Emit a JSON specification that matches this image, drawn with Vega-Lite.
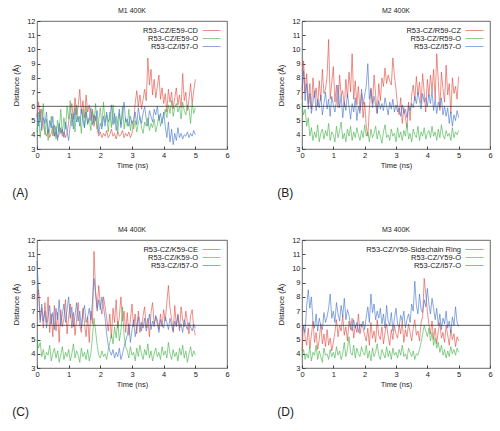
{
"$schema": "https://vega.github.io/schema/vega-lite/v6.json",
"padding": {"left": 12, "top": 6, "right": 4, "bottom": 4},
"background": "white",
"config": {
  "font": "Liberation Sans",
  "view": {"stroke": "#444", "strokeWidth": 0.8},
  "axis": {"grid": false, "domain": false, "labelFontSize": 7.5, "titleFontSize": 7.5, "titleFontWeight": "normal", "labelColor": "#222", "titleColor": "#222", "tickColor": "#444", "tickSize": -3, "labelPadding": 5, "labelOverlap": false, "labelBound": false, "labelFlush": false},
  "axisQuantitative": {"labelOverlap": false},
  "axisX": {"titlePadding": 3},
  "axisY": {"titlePadding": 6, "labelOverlap": false},
  "title": {"fontSize": 7, "fontWeight": "normal", "color": "#222", "offset": 3},
  "legend": {"orient": "top-right", "offset": 5, "title": null, "symbolType": "M-2.25,0L2.25,0", "symbolSize": 64, "symbolStrokeWidth": 1.2, "symbolFillColor": "transparent", "labelFontSize": 7.5, "labelColor": "#222", "labelAlign": "right", "labelOffset": -18, "rowPadding": 0, "padding": 0},
  "line": {"strokeWidth": 0.6}
},
"spacing": 25,
"resolve": {"scale": {"color": "independent"}, "legend": {"color": "independent"}},
"vconcat": [
 {"spacing": 47, "resolve": {"scale": {"color": "independent"}, "legend": {"color": "independent"}}, "hconcat": [
  {"title": {"text": "(A)", "orient": "bottom", "fontSize": 12, "offset": 19}, "resolve": {"scale": {"color": "independent"}, "legend": {"color": "independent"}},
   "vconcat": [{"title": "M1 400K", "width": 190, "height": 128, "data": {"name": "A"},
    "layer": [
     {"transform": [{"fold": ["r", "g", "b"], "as": ["k", "v"]}], "mark": "line", "encoding": {"x": {"field": "t", "type": "quantitative", "scale": {"domain": [0, 6], "nice": false}, "axis": {"values": [0,1,2,3,4,5,6], "labelOverlap": false, "title": "Time (ns)"}}, "y": {"field": "v", "type": "quantitative", "scale": {"domain": [3, 12], "nice": false}, "axis": {"values": [3,4,5,6,7,8,9,10,11,12], "labelOverlap": false, "title": "Distance (Å)"}}, "color": {"field": "k", "type": "nominal", "scale": {"domain": ["r", "g", "b"], "range": ["#e0443a", "#3cb043", "#3d6ec9"]}, "legend": {"labelExpr": "datum.label == 'r' ? 'R53-CZ/E59-CD' : datum.label == 'g' ? 'R53-CZ/E59-O' : 'R53-CZ/I57-O'"}}}},
     {"data": {"values": [{}]}, "mark": {"type": "rule", "color": "#333", "strokeWidth": 0.8}, "encoding": {"y": {"datum": 6, "type": "quantitative", "axis": {"values": [3,4,5,6,7,8,9,10,11,12], "labelOverlap": false, "title": "Distance (Å)"}}}}
    ]}]},
  {"title": {"text": "(B)", "orient": "bottom", "fontSize": 12, "offset": 19}, "resolve": {"scale": {"color": "independent"}, "legend": {"color": "independent"}},
   "vconcat": [{"title": "M2 400K", "width": 188, "height": 128, "data": {"name": "B"},
    "layer": [
     {"transform": [{"fold": ["r", "g", "b"], "as": ["k", "v"]}], "mark": "line", "encoding": {"x": {"field": "t", "type": "quantitative", "scale": {"domain": [0, 6], "nice": false}, "axis": {"values": [0,1,2,3,4,5,6], "labelOverlap": false, "title": "Time (ns)"}}, "y": {"field": "v", "type": "quantitative", "scale": {"domain": [3, 12], "nice": false}, "axis": {"values": [3,4,5,6,7,8,9,10,11,12], "labelOverlap": false, "title": "Distance (Å)"}}, "color": {"field": "k", "type": "nominal", "scale": {"domain": ["r", "g", "b"], "range": ["#e0443a", "#3cb043", "#3d6ec9"]}, "legend": {"labelExpr": "datum.label == 'r' ? 'R53-CZ/R59-CZ' : datum.label == 'g' ? 'R53-CZ/R59-O' : 'R53-CZ/I57-O'"}}}},
     {"data": {"values": [{}]}, "mark": {"type": "rule", "color": "#333", "strokeWidth": 0.8}, "encoding": {"y": {"datum": 6, "type": "quantitative", "axis": {"values": [3,4,5,6,7,8,9,10,11,12], "labelOverlap": false, "title": "Distance (Å)"}}}}
    ]}]}
 ]},
 {"spacing": 47, "resolve": {"scale": {"color": "independent"}, "legend": {"color": "independent"}}, "hconcat": [
  {"title": {"text": "(C)", "orient": "bottom", "fontSize": 12, "offset": 19}, "resolve": {"scale": {"color": "independent"}, "legend": {"color": "independent"}},
   "vconcat": [{"title": "M4 400K", "width": 190, "height": 128, "data": {"name": "C"},
    "layer": [
     {"transform": [{"fold": ["r", "g", "b"], "as": ["k", "v"]}], "mark": "line", "encoding": {"x": {"field": "t", "type": "quantitative", "scale": {"domain": [0, 6], "nice": false}, "axis": {"values": [0,1,2,3,4,5,6], "labelOverlap": false, "title": "Time (ns)"}}, "y": {"field": "v", "type": "quantitative", "scale": {"domain": [3, 12], "nice": false}, "axis": {"values": [3,4,5,6,7,8,9,10,11,12], "labelOverlap": false, "title": "Distance (Å)"}}, "color": {"field": "k", "type": "nominal", "scale": {"domain": ["r", "g", "b"], "range": ["#e0443a", "#3cb043", "#3d6ec9"]}, "legend": {"labelExpr": "datum.label == 'r' ? 'R53-CZ/K59-CE' : datum.label == 'g' ? 'R53-CZ/K59-O' : 'R53-CZ/I57-O'"}}}},
     {"data": {"values": [{}]}, "mark": {"type": "rule", "color": "#333", "strokeWidth": 0.8}, "encoding": {"y": {"datum": 6, "type": "quantitative", "axis": {"values": [3,4,5,6,7,8,9,10,11,12], "labelOverlap": false, "title": "Distance (Å)"}}}}
    ]}]},
  {"title": {"text": "(D)", "orient": "bottom", "fontSize": 12, "offset": 19}, "resolve": {"scale": {"color": "independent"}, "legend": {"color": "independent"}},
   "vconcat": [{"title": "M3 400K", "width": 188, "height": 128, "data": {"name": "D"},
    "layer": [
     {"transform": [{"fold": ["r", "g", "b"], "as": ["k", "v"]}], "mark": "line", "encoding": {"x": {"field": "t", "type": "quantitative", "scale": {"domain": [0, 6], "nice": false}, "axis": {"values": [0,1,2,3,4,5,6], "labelOverlap": false, "title": "Time (ns)"}}, "y": {"field": "v", "type": "quantitative", "scale": {"domain": [3, 12], "nice": false}, "axis": {"values": [3,4,5,6,7,8,9,10,11,12], "labelOverlap": false, "title": "Distance (Å)"}}, "color": {"field": "k", "type": "nominal", "scale": {"domain": ["r", "g", "b"], "range": ["#e0443a", "#3cb043", "#3d6ec9"]}, "legend": {"labelExpr": "datum.label == 'r' ? 'R53-CZ/Y59-Sidechain Ring' : datum.label == 'g' ? 'R53-CZ/Y59-O' : 'R53-CZ/I57-O'"}}}},
     {"data": {"values": [{}]}, "mark": {"type": "rule", "color": "#333", "strokeWidth": 0.8}, "encoding": {"y": {"datum": 6, "type": "quantitative", "axis": {"values": [3,4,5,6,7,8,9,10,11,12], "labelOverlap": false, "title": "Distance (Å)"}}}}
    ]}]}
 ]}
],
"datasets": {
"A": [
{"t":0,"r":5.2,"g":4.2,"b":5.5},{"t":0.05,"r":6.3,"g":5.6,"b":4.6},{"t":0.1,"r":5.0,"g":3.8,"b":5.8},{"t":0.15,"r":5.8,"g":4.9,"b":4.3},{"t":0.2,"r":4.6,"g":6.2,"b":5.2},
{"t":0.25,"r":4.2,"g":4.0,"b":4.8},{"t":0.3,"r":3.9,"g":5.1,"b":5.6},{"t":0.35,"r":4.4,"g":3.6,"b":4.1},{"t":0.4,"r":3.8,"g":4.4,"b":5.0},{"t":0.45,"r":4.1,"g":5.3,"b":4.5},
{"t":0.5,"r":4.6,"g":3.9,"b":5.3},{"t":0.55,"r":3.9,"g":4.7,"b":3.9},{"t":0.6,"r":4.2,"g":3.7,"b":4.6},{"t":0.65,"r":3.8,"g":5.0,"b":3.6},{"t":0.7,"r":4.0,"g":4.2,"b":4.8},
{"t":0.75,"r":4.5,"g":5.8,"b":4.1},{"t":0.8,"r":3.9,"g":4.1,"b":4.4},{"t":0.85,"r":4.2,"g":5.2,"b":3.8},{"t":0.9,"r":3.8,"g":4.4,"b":4.9},{"t":0.95,"r":4.1,"g":6.0,"b":4.2},
{"t":1,"r":4.9,"g":5.1,"b":3.6},{"t":1.05,"r":5.6,"g":6.4,"b":4.7},{"t":1.1,"r":6.2,"g":4.6,"b":5.5},{"t":1.15,"r":5.1,"g":5.5,"b":4.4},{"t":1.2,"r":6.6,"g":4.2,"b":5.9},
{"t":1.25,"r":5.4,"g":6.1,"b":4.9},{"t":1.3,"r":6.0,"g":4.9,"b":5.3},{"t":1.35,"r":7.2,"g":5.3,"b":4.6},{"t":1.4,"r":5.5,"g":4.1,"b":5.8},{"t":1.45,"r":6.4,"g":5.8,"b":5.0},
{"t":1.5,"r":5.2,"g":4.5,"b":4.5},{"t":1.55,"r":6.8,"g":6.0,"b":5.6},{"t":1.6,"r":5.6,"g":4.7,"b":4.8},{"t":1.65,"r":6.1,"g":5.2,"b":5.2},{"t":1.7,"r":5.0,"g":4.3,"b":5.9},
{"t":1.75,"r":5.8,"g":5.7,"b":4.7},{"t":1.8,"r":4.6,"g":4.8,"b":5.4},{"t":1.85,"r":5.3,"g":6.2,"b":5.0},{"t":1.9,"r":4.4,"g":4.4,"b":5.7},{"t":1.95,"r":3.9,"g":5.0,"b":4.1},
{"t":2,"r":4.2,"g":5.9,"b":4.8},{"t":2.05,"r":3.8,"g":4.6,"b":4.4},{"t":2.1,"r":4.1,"g":6.3,"b":5.3},{"t":2.15,"r":3.9,"g":4.9,"b":4.6},{"t":2.2,"r":4.3,"g":5.4,"b":5.6},
{"t":2.25,"r":3.8,"g":4.2,"b":4.9},{"t":2.3,"r":4.0,"g":5.6,"b":5.2},{"t":2.35,"r":4.4,"g":4.5,"b":6.1},{"t":2.4,"r":3.9,"g":6.1,"b":4.7},{"t":2.45,"r":4.1,"g":4.8,"b":5.5},
{"t":2.5,"r":3.7,"g":5.3,"b":4.3},{"t":2.55,"r":4.2,"g":4.1,"b":5.0},{"t":2.6,"r":3.9,"g":5.5,"b":5.8},{"t":2.65,"r":4.0,"g":4.7,"b":4.5},{"t":2.7,"r":4.3,"g":6.0,"b":5.4},
{"t":2.75,"r":3.8,"g":4.4,"b":6.3},{"t":2.8,"r":4.1,"g":5.2,"b":4.9},{"t":2.85,"r":3.9,"g":4.6,"b":5.1},{"t":2.9,"r":4.2,"g":5.8,"b":4.6},{"t":2.95,"r":3.8,"g":4.3,"b":5.3},
{"t":3,"r":4.1,"g":5.0,"b":4.8},{"t":3.05,"r":4.8,"g":4.4,"b":5.0},{"t":3.1,"r":6.2,"g":5.0,"b":5.6},{"t":3.15,"r":7.1,"g":4.2,"b":4.7},{"t":3.2,"r":6.0,"g":4.8,"b":5.9},
{"t":3.25,"r":6.8,"g":5.3,"b":5.2},{"t":3.3,"r":5.8,"g":4.5,"b":4.8},{"t":3.35,"r":6.5,"g":4.1,"b":5.5},{"t":3.4,"r":7.2,"g":4.9,"b":6.0},{"t":3.45,"r":6.4,"g":4.6,"b":5.1},
{"t":3.5,"r":9.4,"g":5.2,"b":4.6},{"t":3.55,"r":7.5,"g":4.3,"b":5.7},{"t":3.6,"r":8.6,"g":4.8,"b":5.3},{"t":3.65,"r":6.8,"g":4.5,"b":4.9},{"t":3.7,"r":7.9,"g":5.1,"b":5.8},
{"t":3.75,"r":6.6,"g":4.2,"b":5.4},{"t":3.8,"r":7.4,"g":4.7,"b":6.0},{"t":3.85,"r":8.2,"g":5.4,"b":5.0},{"t":3.9,"r":6.5,"g":4.6,"b":5.5},{"t":3.95,"r":7.3,"g":5.0,"b":4.8},
{"t":4,"r":6.2,"g":5.3,"b":5.6},{"t":4.05,"r":6.9,"g":5.8,"b":4.6},{"t":4.1,"r":5.6,"g":5.2,"b":3.8},{"t":4.15,"r":7.2,"g":6.1,"b":4.9},{"t":4.2,"r":6.3,"g":5.5,"b":3.5},
{"t":4.25,"r":7.0,"g":6.4,"b":4.4},{"t":4.3,"r":5.8,"g":5.3,"b":3.3},{"t":4.35,"r":6.6,"g":5.9,"b":4.1},{"t":4.4,"r":7.3,"g":6.2,"b":3.6},{"t":4.45,"r":6.1,"g":5.6,"b":4.5},
{"t":4.5,"r":6.8,"g":6.0,"b":3.8},{"t":4.55,"r":5.9,"g":5.1,"b":4.1},{"t":4.6,"r":8.3,"g":6.3,"b":3.7},{"t":4.65,"r":6.4,"g":5.7,"b":4.0},{"t":4.7,"r":7.0,"g":5.4,"b":3.9},
{"t":4.75,"r":5.7,"g":6.1,"b":4.2},{"t":4.8,"r":6.5,"g":5.8,"b":3.8},{"t":4.85,"r":7.6,"g":4.8,"b":4.1},{"t":4.9,"r":6.2,"g":6.2,"b":3.9},{"t":4.95,"r":7.1,"g":5.5,"b":4.3},
{"t":5,"r":7.9,"g":5.9,"b":4.0}
],
"B": [
{"t":0,"r":6.5,"g":6.2,"b":7.2},{"t":0.05,"r":9.2,"g":5.4,"b":8.5},{"t":0.1,"r":7.0,"g":5.8,"b":6.4},{"t":0.15,"r":8.3,"g":4.6,"b":7.6},{"t":0.2,"r":6.2,"g":5.2,"b":5.8},
{"t":0.25,"r":7.6,"g":3.9,"b":6.9},{"t":0.3,"r":5.8,"g":4.5,"b":5.5},{"t":0.35,"r":8.0,"g":3.6,"b":6.3},{"t":0.4,"r":6.6,"g":4.2,"b":7.1},{"t":0.45,"r":7.3,"g":3.8,"b":5.7},
{"t":0.5,"r":6.0,"g":4.7,"b":6.5},{"t":0.55,"r":7.8,"g":3.5,"b":5.9},{"t":0.6,"r":6.4,"g":4.1,"b":6.8},{"t":0.65,"r":8.6,"g":4.4,"b":5.4},{"t":0.7,"r":6.9,"g":3.7,"b":6.2},
{"t":0.75,"r":7.2,"g":4.3,"b":7.0},{"t":0.8,"r":8.1,"g":3.9,"b":5.8},{"t":0.85,"r":10.7,"g":4.8,"b":6.5},{"t":0.9,"r":6.5,"g":3.6,"b":5.3},{"t":0.95,"r":7.7,"g":4.2,"b":6.7},
{"t":1,"r":8.8,"g":4.0,"b":6.1},{"t":1.05,"r":6.3,"g":3.5,"b":5.6},{"t":1.1,"r":7.5,"g":4.6,"b":6.4},{"t":1.15,"r":5.9,"g":3.8,"b":7.5},{"t":1.2,"r":8.2,"g":4.3,"b":5.9},
{"t":1.25,"r":6.8,"g":4.9,"b":6.8},{"t":1.3,"r":7.1,"g":3.7,"b":5.2},{"t":1.35,"r":6.0,"g":4.1,"b":6.3},{"t":1.4,"r":7.9,"g":3.5,"b":5.7},{"t":1.45,"r":6.6,"g":4.4,"b":6.9},
{"t":1.5,"r":8.4,"g":3.9,"b":6.0},{"t":1.55,"r":7.0,"g":4.6,"b":5.1},{"t":1.6,"r":9.7,"g":3.6,"b":6.2},{"t":1.65,"r":6.5,"g":4.2,"b":5.6},{"t":1.7,"r":7.8,"g":3.8,"b":6.6},
{"t":1.75,"r":6.1,"g":4.5,"b":5.0},{"t":1.8,"r":7.4,"g":4.0,"b":6.0},{"t":1.85,"r":5.7,"g":3.6,"b":5.5},{"t":1.9,"r":6.9,"g":4.3,"b":7.2},{"t":1.95,"r":5.2,"g":3.8,"b":6.1},
{"t":2,"r":6.3,"g":4.7,"b":6.8},{"t":2.05,"r":4.6,"g":3.9,"b":7.4},{"t":2.1,"r":3.9,"g":4.2,"b":9.0},{"t":2.15,"r":5.8,"g":3.5,"b":6.5},{"t":2.2,"r":7.3,"g":4.4,"b":7.2},
{"t":2.25,"r":6.2,"g":3.8,"b":5.9},{"t":2.3,"r":8.2,"g":4.1,"b":6.7},{"t":2.35,"r":6.8,"g":4.6,"b":6.1},{"t":2.4,"r":5.5,"g":3.7,"b":5.5},{"t":2.45,"r":7.6,"g":4.3,"b":6.4},
{"t":2.5,"r":6.4,"g":3.9,"b":5.8},{"t":2.55,"r":8.0,"g":3.4,"b":6.2},{"t":2.6,"r":7.4,"g":4.2,"b":5.7},{"t":2.65,"r":8.7,"g":4.7,"b":6.6},{"t":2.7,"r":7.6,"g":3.8,"b":6.0},
{"t":2.75,"r":8.2,"g":4.0,"b":5.4},{"t":2.8,"r":7.8,"g":3.6,"b":6.3},{"t":2.85,"r":7.5,"g":4.4,"b":5.8},{"t":2.9,"r":9.4,"g":3.9,"b":6.5},{"t":2.95,"r":8.1,"g":4.1,"b":5.6},
{"t":3,"r":7.2,"g":3.5,"b":6.1},{"t":3.05,"r":6.0,"g":4.5,"b":5.6},{"t":3.1,"r":5.4,"g":3.8,"b":5.9},{"t":3.15,"r":6.6,"g":4.2,"b":5.3},{"t":3.2,"r":4.8,"g":3.6,"b":6.1},
{"t":3.25,"r":5.9,"g":4.3,"b":5.5},{"t":3.3,"r":5.2,"g":3.9,"b":5.8},{"t":3.35,"r":4.5,"g":4.8,"b":5.2},{"t":3.4,"r":6.3,"g":3.7,"b":6.0},{"t":3.45,"r":5.0,"g":4.1,"b":5.7},
{"t":3.5,"r":6.8,"g":3.5,"b":6.2},{"t":3.55,"r":7.5,"g":4.4,"b":5.9},{"t":3.6,"r":6.4,"g":4.0,"b":6.7},{"t":3.65,"r":8.1,"g":3.8,"b":6.2},{"t":3.7,"r":6.8,"g":4.6,"b":7.0},
{"t":3.75,"r":7.7,"g":3.6,"b":6.4},{"t":3.8,"r":6.2,"g":4.2,"b":5.8},{"t":3.85,"r":8.3,"g":3.9,"b":6.9},{"t":3.9,"r":7.0,"g":4.5,"b":6.3},{"t":3.95,"r":5.6,"g":3.7,"b":6.6},
{"t":4,"r":7.9,"g":4.1,"b":6.0},{"t":4.05,"r":6.7,"g":4.3,"b":6.8},{"t":4.1,"r":8.2,"g":3.8,"b":6.2},{"t":4.15,"r":7.1,"g":4.6,"b":7.1},{"t":4.2,"r":8.6,"g":3.9,"b":5.7},
{"t":4.25,"r":6.5,"g":4.2,"b":6.5},{"t":4.3,"r":9.7,"g":3.6,"b":5.5},{"t":4.35,"r":7.8,"g":4.4,"b":6.3},{"t":4.4,"r":5.7,"g":3.8,"b":5.9},{"t":4.45,"r":8.4,"g":4.7,"b":6.6},
{"t":4.5,"r":7.2,"g":4.0,"b":5.4},{"t":4.55,"r":6.3,"g":3.7,"b":6.0},{"t":4.6,"r":8.9,"g":4.3,"b":5.3},{"t":4.65,"r":6.8,"g":3.9,"b":5.9},{"t":4.7,"r":7.6,"g":4.1,"b":4.8},
{"t":4.75,"r":5.5,"g":3.6,"b":5.6},{"t":4.8,"r":8.0,"g":4.5,"b":4.6},{"t":4.85,"r":6.9,"g":3.8,"b":5.4},{"t":4.9,"r":7.4,"g":4.2,"b":5.0},{"t":4.95,"r":6.5,"g":4.0,"b":5.7},
{"t":5,"r":8.1,"g":4.3,"b":5.2}
],
"C": [
{"t":0,"r":7.8,"g":5.0,"b":10.5},{"t":0.05,"r":8.5,"g":4.4,"b":8.4},{"t":0.1,"r":6.4,"g":4.8,"b":6.2},{"t":0.15,"r":7.2,"g":3.8,"b":7.5},{"t":0.2,"r":5.8,"g":4.3,"b":6.3},
{"t":0.25,"r":7.6,"g":3.6,"b":7.0},{"t":0.3,"r":6.2,"g":4.1,"b":5.8},{"t":0.35,"r":8.0,"g":3.9,"b":6.6},{"t":0.4,"r":5.5,"g":4.6,"b":7.4},{"t":0.45,"r":6.8,"g":3.5,"b":6.1},
{"t":0.5,"r":5.2,"g":4.0,"b":6.9},{"t":0.55,"r":7.4,"g":4.4,"b":5.7},{"t":0.6,"r":5.6,"g":3.7,"b":7.2},{"t":0.65,"r":6.9,"g":4.2,"b":6.4},{"t":0.7,"r":4.8,"g":3.4,"b":7.8},
{"t":0.75,"r":7.1,"g":3.9,"b":6.0},{"t":0.8,"r":5.9,"g":4.5,"b":6.8},{"t":0.85,"r":6.5,"g":3.6,"b":7.5},{"t":0.9,"r":7.8,"g":4.1,"b":6.2},{"t":0.95,"r":5.4,"g":3.8,"b":7.1},
{"t":1,"r":6.6,"g":4.3,"b":8.0},{"t":1.05,"r":7.5,"g":3.5,"b":6.5},{"t":1.1,"r":5.8,"g":4.0,"b":7.3},{"t":1.15,"r":6.9,"g":4.7,"b":5.9},{"t":1.2,"r":5.3,"g":3.7,"b":6.7},
{"t":1.25,"r":6.4,"g":4.2,"b":7.6},{"t":1.3,"r":7.6,"g":3.9,"b":6.3},{"t":1.35,"r":6.0,"g":3.4,"b":7.0},{"t":1.4,"r":5.5,"g":4.4,"b":5.8},{"t":1.45,"r":7.2,"g":3.8,"b":6.9},
{"t":1.5,"r":6.1,"g":4.1,"b":7.4},{"t":1.55,"r":5.2,"g":3.6,"b":6.2},{"t":1.6,"r":6.6,"g":4.3,"b":6.6},{"t":1.65,"r":4.8,"g":3.5,"b":7.2},{"t":1.7,"r":7.0,"g":4.0,"b":6.4},
{"t":1.75,"r":6.1,"g":5.2,"b":7.6},{"t":1.8,"r":11.2,"g":6.5,"b":9.3},{"t":1.85,"r":8.4,"g":5.6,"b":8.2},{"t":1.9,"r":7.2,"g":4.6,"b":7.0},{"t":1.95,"r":8.8,"g":3.9,"b":7.8},
{"t":2,"r":7.5,"g":3.7,"b":7.1},{"t":2.05,"r":6.8,"g":4.2,"b":8.0},{"t":2.1,"r":8.0,"g":3.8,"b":7.3},{"t":2.15,"r":7.3,"g":4.0,"b":6.5},{"t":2.2,"r":6.5,"g":3.6,"b":5.4},
{"t":2.25,"r":5.6,"g":4.3,"b":4.6},{"t":2.3,"r":6.8,"g":4.8,"b":4.2},{"t":2.35,"r":5.1,"g":5.4,"b":3.9},{"t":2.4,"r":7.2,"g":4.7,"b":4.3},{"t":2.45,"r":6.2,"g":5.9,"b":3.7},
{"t":2.5,"r":7.8,"g":5.1,"b":4.1},{"t":2.55,"r":5.8,"g":6.3,"b":3.8},{"t":2.6,"r":6.6,"g":4.9,"b":4.4},{"t":2.65,"r":8.0,"g":5.6,"b":3.6},{"t":2.7,"r":6.3,"g":7.3,"b":4.0},
{"t":2.75,"r":7.0,"g":5.3,"b":4.5},{"t":2.8,"r":5.5,"g":4.5,"b":4.9},{"t":2.85,"r":6.9,"g":4.2,"b":5.3},{"t":2.9,"r":5.3,"g":3.7,"b":6.1},{"t":2.95,"r":6.4,"g":4.5,"b":4.8},
{"t":3,"r":7.5,"g":3.9,"b":5.7},{"t":3.05,"r":5.9,"g":4.1,"b":6.4},{"t":3.1,"r":6.8,"g":3.5,"b":5.2},{"t":3.15,"r":5.4,"g":4.4,"b":5.9},{"t":3.2,"r":7.0,"g":3.8,"b":6.6},
{"t":3.25,"r":6.2,"g":4.6,"b":5.5},{"t":3.3,"r":5.6,"g":4.0,"b":6.2},{"t":3.35,"r":6.7,"g":3.6,"b":5.8},{"t":3.4,"r":7.3,"g":4.3,"b":6.5},{"t":3.45,"r":5.8,"g":3.9,"b":5.6},
{"t":3.5,"r":6.5,"g":4.7,"b":6.0},{"t":3.55,"r":5.2,"g":3.7,"b":6.8},{"t":3.6,"r":6.9,"g":4.2,"b":5.7},{"t":3.65,"r":7.6,"g":3.5,"b":6.3},{"t":3.7,"r":6.1,"g":4.0,"b":5.9},
{"t":3.75,"r":6.6,"g":4.4,"b":6.7},{"t":3.8,"r":6.4,"g":3.8,"b":6.1},{"t":3.85,"r":5.7,"g":4.1,"b":5.5},{"t":3.9,"r":6.8,"g":3.6,"b":6.4},{"t":3.95,"r":5.9,"g":4.5,"b":6.0},
{"t":4,"r":7.1,"g":3.9,"b":5.8},{"t":4.05,"r":6.3,"g":4.2,"b":6.6},{"t":4.1,"r":7.6,"g":3.7,"b":6.2},{"t":4.15,"r":8.8,"g":4.8,"b":5.7},{"t":4.2,"r":7.2,"g":4.0,"b":6.5},
{"t":4.25,"r":6.5,"g":3.6,"b":6.0},{"t":4.3,"r":5.5,"g":4.3,"b":5.6},{"t":4.35,"r":7.4,"g":3.8,"b":6.3},{"t":4.4,"r":6.0,"g":4.1,"b":5.9},{"t":4.45,"r":6.8,"g":3.5,"b":6.7},
{"t":4.5,"r":5.6,"g":4.4,"b":5.8},{"t":4.55,"r":7.3,"g":3.9,"b":6.1},{"t":4.6,"r":6.4,"g":4.6,"b":5.5},{"t":4.65,"r":5.9,"g":3.7,"b":6.4},{"t":4.7,"r":7.0,"g":4.2,"b":6.0},
{"t":4.75,"r":6.2,"g":3.4,"b":5.7},{"t":4.8,"r":5.4,"g":4.0,"b":6.2},{"t":4.85,"r":6.7,"g":4.5,"b":5.9},{"t":4.9,"r":7.1,"g":3.8,"b":5.6},{"t":4.95,"r":5.8,"g":4.2,"b":6.1},
{"t":5,"r":5.3,"g":3.9,"b":5.8}
],
"D": [
{"t":0,"r":4.2,"g":3.8,"b":5.6},{"t":0.05,"r":6.0,"g":4.3,"b":5.9},{"t":0.1,"r":5.2,"g":3.6,"b":5.5},{"t":0.15,"r":4.6,"g":4.0,"b":7.4},{"t":0.2,"r":5.8,"g":3.7,"b":8.5},
{"t":0.25,"r":4.4,"g":4.5,"b":7.2},{"t":0.3,"r":5.3,"g":3.5,"b":8.0},{"t":0.35,"r":6.3,"g":4.1,"b":6.3},{"t":0.4,"r":4.8,"g":3.9,"b":5.8},{"t":0.45,"r":5.5,"g":4.6,"b":6.8},
{"t":0.5,"r":4.3,"g":3.6,"b":5.6},{"t":0.55,"r":5.0,"g":4.2,"b":6.5},{"t":0.6,"r":6.1,"g":3.8,"b":6.0},{"t":0.65,"r":4.7,"g":3.4,"b":5.7},{"t":0.7,"r":5.4,"g":4.4,"b":6.9},
{"t":0.75,"r":4.5,"g":3.9,"b":6.2},{"t":0.8,"r":5.7,"g":4.0,"b":6.6},{"t":0.85,"r":4.6,"g":3.6,"b":7.2},{"t":0.9,"r":5.1,"g":4.3,"b":8.2},{"t":0.95,"r":4.2,"g":3.8,"b":6.5},
{"t":1,"r":4.8,"g":4.1,"b":7.0},{"t":1.05,"r":5.5,"g":3.7,"b":6.2},{"t":1.1,"r":6.4,"g":4.5,"b":7.6},{"t":1.15,"r":5.2,"g":3.9,"b":6.8},{"t":1.2,"r":6.0,"g":4.2,"b":6.3},
{"t":1.25,"r":5.6,"g":3.6,"b":7.4},{"t":1.3,"r":6.7,"g":4.0,"b":6.6},{"t":1.35,"r":5.3,"g":4.8,"b":7.9},{"t":1.4,"r":5.9,"g":3.8,"b":6.4},{"t":1.45,"r":4.9,"g":4.3,"b":7.1},
{"t":1.5,"r":6.3,"g":5.2,"b":6.7},{"t":1.55,"r":5.7,"g":4.1,"b":6.0},{"t":1.6,"r":6.5,"g":3.9,"b":5.6},{"t":1.65,"r":5.1,"g":4.6,"b":6.4},{"t":1.7,"r":6.0,"g":3.7,"b":5.8},
{"t":1.75,"r":5.5,"g":4.4,"b":6.2},{"t":1.8,"r":6.8,"g":4.0,"b":5.5},{"t":1.85,"r":5.4,"g":3.8,"b":6.1},{"t":1.9,"r":6.1,"g":4.5,"b":5.9},{"t":1.95,"r":5.8,"g":4.1,"b":6.3},
{"t":2,"r":5.3,"g":3.9,"b":5.7},{"t":2.05,"r":4.9,"g":4.6,"b":6.6},{"t":2.1,"r":5.8,"g":3.7,"b":7.3},{"t":2.15,"r":4.6,"g":4.2,"b":6.2},{"t":2.2,"r":6.2,"g":3.5,"b":8.2},
{"t":2.25,"r":5.1,"g":4.4,"b":6.9},{"t":2.3,"r":5.6,"g":3.8,"b":7.5},{"t":2.35,"r":4.8,"g":4.1,"b":6.4},{"t":2.4,"r":6.4,"g":4.7,"b":7.0},{"t":2.45,"r":5.3,"g":3.9,"b":6.5},
{"t":2.5,"r":5.0,"g":3.6,"b":7.2},{"t":2.55,"r":5.9,"g":4.3,"b":6.1},{"t":2.6,"r":4.7,"g":4.0,"b":6.8},{"t":2.65,"r":5.5,"g":3.7,"b":5.8},{"t":2.7,"r":6.1,"g":4.5,"b":7.4},
{"t":2.75,"r":5.2,"g":3.8,"b":6.3},{"t":2.8,"r":4.6,"g":4.2,"b":6.0},{"t":2.85,"r":5.7,"g":3.6,"b":6.9},{"t":2.9,"r":5.0,"g":4.4,"b":5.6},{"t":2.95,"r":6.0,"g":3.9,"b":6.5},
{"t":3,"r":5.4,"g":4.1,"b":7.2},{"t":3.05,"r":5.1,"g":3.7,"b":6.1},{"t":3.1,"r":6.0,"g":4.3,"b":5.9},{"t":3.15,"r":5.4,"g":3.9,"b":6.7},{"t":3.2,"r":6.3,"g":4.6,"b":6.3},
{"t":3.25,"r":4.8,"g":3.8,"b":7.0},{"t":3.3,"r":5.7,"g":4.0,"b":5.8},{"t":3.35,"r":5.2,"g":3.6,"b":6.4},{"t":3.4,"r":6.1,"g":4.4,"b":6.8},{"t":3.45,"r":5.5,"g":4.1,"b":6.2},
{"t":3.5,"r":4.9,"g":3.8,"b":7.5},{"t":3.55,"r":5.8,"g":4.2,"b":7.0},{"t":3.6,"r":6.4,"g":3.6,"b":9.1},{"t":3.65,"r":5.3,"g":4.0,"b":7.4},{"t":3.7,"r":5.6,"g":3.9,"b":6.8},
{"t":3.75,"r":4.9,"g":4.3,"b":8.2},{"t":3.8,"r":6.2,"g":4.8,"b":7.1},{"t":3.85,"r":6.6,"g":5.4,"b":6.9},{"t":3.9,"r":9.3,"g":6.0,"b":7.8},{"t":3.95,"r":8.2,"g":5.6,"b":7.3},
{"t":4,"r":7.0,"g":5.2,"b":8.6},{"t":4.05,"r":6.1,"g":5.8,"b":7.5},{"t":4.1,"r":5.4,"g":4.9,"b":6.8},{"t":4.15,"r":6.3,"g":5.5,"b":7.9},{"t":4.2,"r":5.0,"g":4.6,"b":7.2},
{"t":4.25,"r":5.8,"g":5.1,"b":6.4},{"t":4.3,"r":4.7,"g":4.4,"b":7.2},{"t":4.35,"r":5.6,"g":4.8,"b":6.0},{"t":4.4,"r":6.2,"g":4.1,"b":6.8},{"t":4.45,"r":5.1,"g":4.6,"b":5.7},
{"t":4.5,"r":5.5,"g":3.9,"b":6.5},{"t":4.55,"r":4.8,"g":4.3,"b":6.1},{"t":4.6,"r":6.0,"g":3.7,"b":7.0},{"t":4.65,"r":5.3,"g":4.2,"b":5.8},{"t":4.7,"r":4.6,"g":3.8,"b":6.3},
{"t":4.75,"r":5.7,"g":4.5,"b":5.5},{"t":4.8,"r":5.0,"g":4.0,"b":6.6},{"t":4.85,"r":5.4,"g":4.3,"b":6.0},{"t":4.9,"r":4.5,"g":3.9,"b":7.3},{"t":4.95,"r":5.2,"g":4.4,"b":6.2},
{"t":5,"r":4.9,"g":4.1,"b":5.9}
]
}
}
